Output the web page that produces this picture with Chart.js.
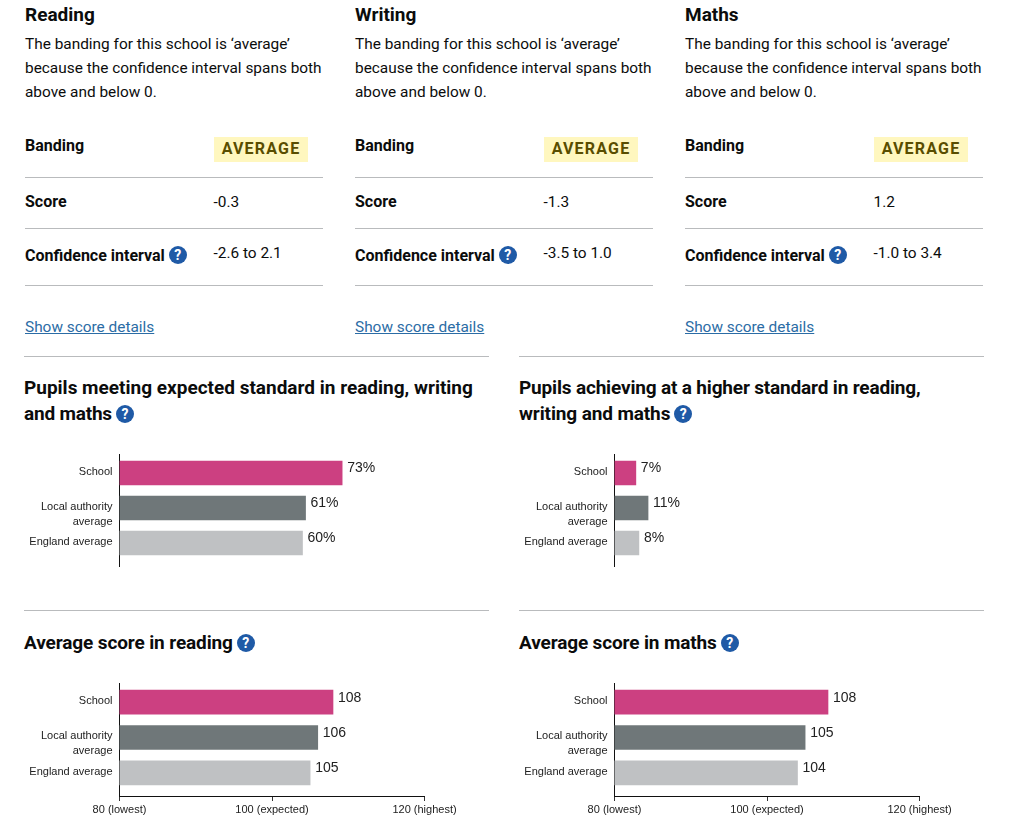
<!DOCTYPE html>
<html><head><meta charset="utf-8">
<script src="https://cdn.jsdelivr.net/npm/chart.js@4"></script>
<style>
html,body{margin:0;padding:0;background:#fff;overflow:hidden}
body{width:1011px;height:824px;position:relative;font-family:Roboto,sans-serif;color:#0b0c0c;font-size:15.4px}
.t{position:absolute;white-space:nowrap;line-height:24px}
.b{font-weight:700;font-size:16px}
.h{font-size:19px;font-weight:700}
.r{position:absolute;height:1px;background:#b9bbbd}
.tag{position:absolute;background:#fff7bf;color:#594d00;font-weight:700;letter-spacing:1.2px;text-align:center;width:94px;height:25px;line-height:24px;font-size:16px}
.q{display:inline-block;width:18px;height:18px;border-radius:50%;background:#1f5aa6;color:#fff;font:700 14px/18px Roboto,sans-serif;text-align:center;vertical-align:1px;margin-left:4px;letter-spacing:0}
.l{color:#2b6ca5;text-decoration:underline}
canvas{position:absolute}
</style></head><body><div id="page"></div>
<script>
const subjects=['Reading','Writing','Maths'];
const scores=['-0.3','-1.3','1.2'];
const intervals=['-2.6 to 2.1','-3.5 to 1.0','-1.0 to 3.4'];
const categories=[['School'],['','Local authority','average'],['England average']];
const barColours=['#cc4081','#6f7779','#bfc1c3'];
const expectedValues=[73,61,60];
const higherValues=[7,11,8];
const readingValues=[108,106,105];
const mathsValues=[108,105,104];
const scoreTicks={80:'80 (lowest)',100:'100 (expected)',120:'120 (highest)'};
const page=document.getElementById('page');
function add(cls,x,y,html,css){const d=document.createElement('div');d.className=cls;d.style.left=x+'px';d.style.top=y+'px';if(css)d.style.cssText+=css;d.innerHTML=html;page.appendChild(d);return d;}
const Q='<span class="q">?</span>';
subjects.forEach((s,i)=>{const x=25+330*i;
 add('t h',x,3,s);
 add('t',x,32,'The banding for this school is ‘average’');
 add('t',x,56,'because the confidence interval spans both');
 add('t',x,80,'above and below 0.');
 add('t b',x,134,'Banding');
 add('tag',x+189,137,'AVERAGE');
 add('r',x,177,'','width:298px');
 add('t b',x,190,'Score');
 add('t',x+188.5,190,scores[i]);
 add('r',x,228,'','width:298px');
 add('t b',x,244,'Confidence interval'+Q);
 add('t',x+188.5,241,intervals[i]);
 add('r',x,285,'','width:298px');
 add('t l',x,315,'Show score details');
});
[[24,356],[519,356],[24,610],[519,610]].forEach(p=>add('r',p[0],p[1],'','width:465px'));
add('t h',24,376,'Pupils meeting expected standard in reading, writing');
add('t h',24,402,'and maths'+Q,'letter-spacing:-.2px');
add('t h',519,376,'Pupils achieving at a higher standard in reading,','letter-spacing:-.17px');
add('t h',519,402,'writing and maths'+Q,'letter-spacing:-.12px');
add('t h',24,631,'Average score in reading'+Q,'letter-spacing:-.12px');
add('t h',519,631,'Average score in maths'+Q,'letter-spacing:-.14px');

const valueLabels={id:'valueLabels',afterDatasetsDraw(c,a,o){const x=c.ctx;x.save();x.font='14px "Liberation Sans",Arial,sans-serif';x.fillStyle='#222';x.textBaseline='middle';
 c.getDatasetMeta(0).data.forEach((b,i)=>{x.fillText(o.values[i]+o.suffix,b.x+5,b.y-4.5);});x.restore();}};
function makeChart(left,top,values,suffix,min,max,showAxis){
 const cv=document.createElement('canvas');const h=112+(showAxis?28:0)+2;
 cv.style.left=left+'px';cv.style.top=(top-1)+'px';cv.style.width='465px';cv.style.height=h+'px';cv.width=465;cv.height=h;
 page.appendChild(cv);
 new Chart(cv,{type:'bar',plugins:[valueLabels],data:{datasets:[{data:values.map((v,i)=>({x:v,y:i})),backgroundColor:barColours,barThickness:24}]},
 options:{indexAxis:'y',responsive:false,animation:false,devicePixelRatio:1,
  layout:{padding:{top:1,bottom:showAxis?0:1,right:64.5,left:0}},
  plugins:{legend:{display:false},tooltip:{enabled:false},valueLabels:{values,suffix}},
  scales:{
   x:{type:'linear',min,max,display:showAxis,
    grid:{drawOnChartArea:false,drawTicks:true,tickLength:5,color:'#333'},
    border:{color:'#111',width:1},
    ticks:{stepSize:20,maxRotation:0,autoSkip:false,padding:2,color:'#222',font:{family:'"Liberation Sans",Arial,sans-serif',size:11},callback:v=>scoreTicks[v]},
    afterFit(s){s.height=showAxis?28:0;s.paddingLeft=0;s.paddingRight=0;}},
   y:{type:'linear',reverse:true,min:-0.543,max:2.657,offset:false,
    grid:{offset:false,drawOnChartArea:false,drawTicks:false},
    border:{color:'#111',width:1},
    afterBuildTicks(s){s.ticks=categories.map((c,i)=>({value:i-0.03}));},
    ticks:{padding:7,color:'#222',autoSkip:false,font:{family:'"Liberation Sans",Arial,sans-serif',size:11,lineHeight:1.364},
     callback:(v,i)=>categories[i]},
    afterFit(s){s.width=95.5;s.paddingTop=0;s.paddingBottom=0;}}
  }}});
}
makeChart(24,454,expectedValues,'%',0,100,false);
makeChart(519,454,higherValues,'%',0,100,false);
makeChart(24,683,readingValues,'',80,120,true);
makeChart(519,683,mathsValues,'',80,120,true);
</script></body></html>
